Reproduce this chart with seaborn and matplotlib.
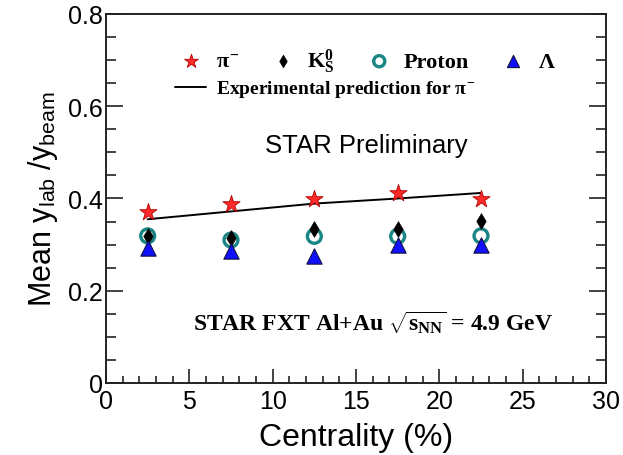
import numpy as np
import pandas as pd
import matplotlib
matplotlib.use("Agg")
import matplotlib.pyplot as plt
from matplotlib.ticker import MultipleLocator, FuncFormatter
import seaborn as sns

# Centrality bins (bin centres, %)
centrality = [2.5, 7.5, 12.5, 17.5, 22.5]

# Mean y_lab / y_beam per species
pion = [0.370, 0.389, 0.400, 0.411, 0.400]
kaon = [0.319, 0.314, 0.334, 0.334, 0.352]
kaon_err = [0.012, 0.012, 0.012, 0.012, 0.012]
proton = [0.319, 0.310, 0.318, 0.318, 0.319]
lam = [0.292, 0.287, 0.275, 0.299, 0.299]

# Expected pion values
pion_pred = [0.355, 0.372, 0.389, 0.400, 0.412]

sns.set_style("ticks")
plt.rcParams.update({
    "font.family": ["Liberation Sans", "DejaVu Sans"],
    "mathtext.fontset": "custom",
    "mathtext.rm": "Liberation Serif:bold",
    "mathtext.it": "Liberation Serif:bold",
    "mathtext.bf": "Liberation Serif:bold",
    "text.color": "black",
    "axes.labelcolor": "black",
    "xtick.labelcolor": "black",
    "ytick.labelcolor": "black",
})

fig = plt.figure(figsize=(6.23, 4.56), dpi=100)
ax = fig.add_axes([106 / 623, 1 - 384 / 456, 500 / 623, 369 / 456])

df = pd.DataFrame({"c": centrality, "pi": pion, "k": kaon, "p": proton,
                   "l": lam, "pred": pion_pred})

pred_label = "Experimental prediction for $\\pi^{-}$"
sns.lineplot(data=df, x="c", y="pred", color="black", lw=1.4, ax=ax,
             zorder=2, label=pred_label)
sns.scatterplot(data=df, x="c", y="pi", marker="*", s=13 ** 2,
                color="#ff2a2a", edgecolor="#b00000", linewidth=0.6,
                ax=ax, zorder=4, label="$\\pi^{-}$")
sns.scatterplot(data=df, x="c", y="p", marker="o", s=10 ** 2,
                facecolor="none", edgecolor="#1a8585", linewidth=2.4,
                ax=ax, zorder=3, label="Proton")
ax.errorbar(centrality, kaon, yerr=kaon_err, fmt="none", ecolor="black",
            elinewidth=1.0, zorder=5)
sns.scatterplot(data=df, x="c", y="k", marker="d", s=8 ** 2,
                color="black", edgecolor="black", linewidth=0.5,
                ax=ax, zorder=5, label="K$^{0}_{S}$")
sns.scatterplot(data=df, x="c", y="l", marker="^", s=11 ** 2,
                color="#1010ff", edgecolor="#101040", linewidth=0.8,
                ax=ax, zorder=6, label="$\\Lambda$")

ax.set_xlim(0, 30)
ax.set_ylim(0, 0.8)
ax.xaxis.set_major_locator(MultipleLocator(5))
ax.xaxis.set_minor_locator(MultipleLocator(1))
ax.yaxis.set_major_locator(MultipleLocator(0.2))
ax.yaxis.set_minor_locator(MultipleLocator(0.05))

ax.tick_params(axis="both", which="both", direction="in", top=False,
               right=True, labelsize=18, width=1.2, color="#222222")
ax.tick_params(axis="y", which="major", length=12, pad=2)
ax.tick_params(axis="y", which="minor", length=7)
ax.tick_params(axis="x", which="major", length=10, pad=4)
ax.tick_params(axis="x", which="minor", length=5)
for sp in ax.spines.values():
    sp.set_linewidth(1.4)
    sp.set_color("#222222")
ax.yaxis.set_major_formatter(FuncFormatter(
    lambda v, p: "0" if abs(v) < 1e-9 else f"{v:.1f}"))

ax.set_xlabel("Centrality (%)", fontsize=23, labelpad=7)
ax.set_ylabel("Mean y$_{\\mathregular{lab}}$ /y$_{\\mathregular{beam}}$",
              fontsize=22, labelpad=6)

# Legends: species markers on one row, prediction line underneath
handles, labels = ax.get_legend_handles_labels()
hmap = dict(zip(labels, handles))
order = ["$\\pi^{-}$", "K$^{0}_{S}$", "Proton", "$\\Lambda$"]
leg_font = {"family": "Liberation Serif", "weight": "bold", "size": 16}
leg1 = ax.legend([hmap[k] for k in order], order, ncol=4, loc="center left",
                 bbox_to_anchor=(0.148, 0.873), frameon=False, prop=leg_font,
                 handlelength=1.0, handletextpad=0.6, columnspacing=1.5,
                 borderpad=0, borderaxespad=0, markerscale=0.8)
ax.add_artist(leg1)
ax.legend([hmap[pred_label]], [pred_label], loc="center left",
          bbox_to_anchor=(0.138, 0.797), frameon=False,
          prop={"family": "Liberation Serif", "weight": "bold", "size": 14},
          handlelength=1.6, handletextpad=0.5, borderpad=0, borderaxespad=0)

ax.text(0.52, 0.646, "STAR Preliminary", transform=ax.transAxes,
        ha="center", va="center", fontsize=18.5, family="Liberation Sans")
ax.text(0.174, 0.165, "STAR FXT Al+Au $\\sqrt{s_{\\rm NN}}$ = 4.9 GeV",
        transform=ax.transAxes, ha="left", va="center", fontsize=17,
        family="Liberation Serif", weight="bold")

fig.savefig("out.png", dpi=100)
